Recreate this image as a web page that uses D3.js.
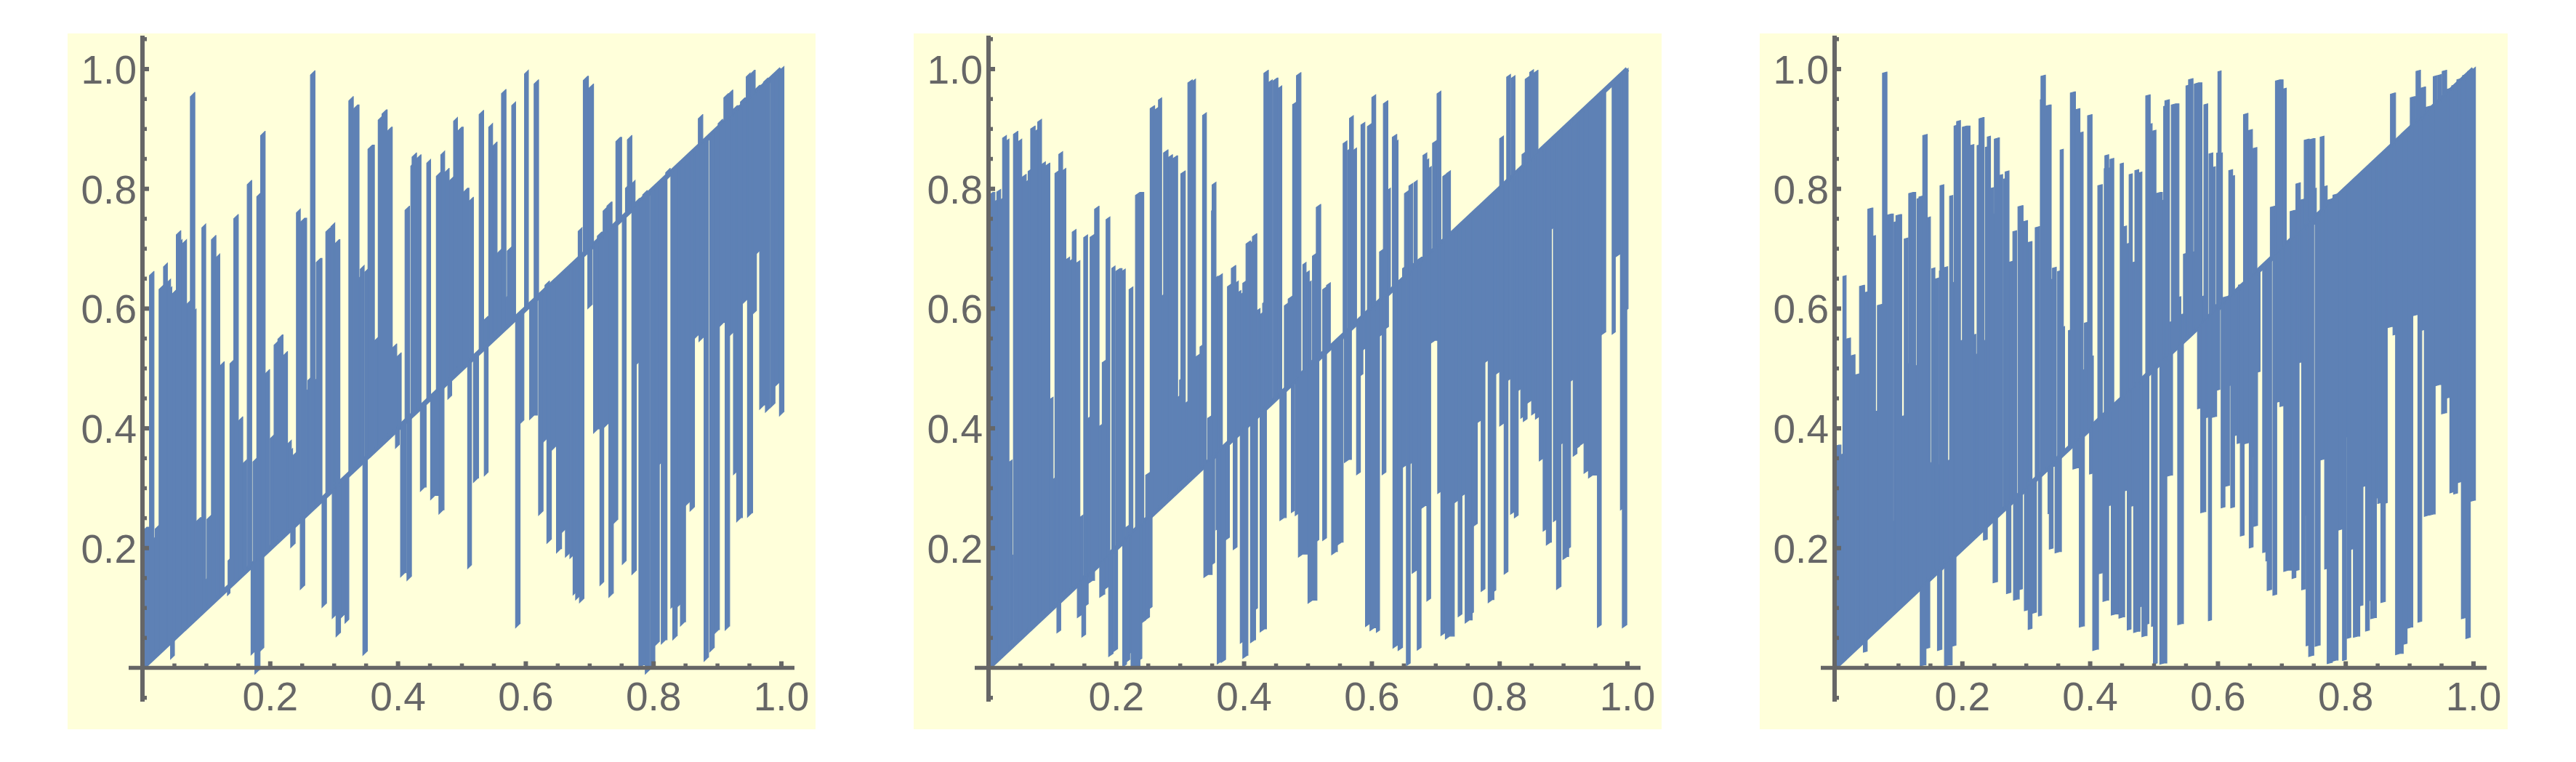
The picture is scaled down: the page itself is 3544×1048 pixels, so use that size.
<!DOCTYPE html>
<html><head><meta charset="utf-8">
<style>html,body{margin:0;padding:0;background:#fff}svg{display:block}text{font-family:"Liberation Sans",Arial,sans-serif}</style>
<script src="https://cdnjs.cloudflare.com/ajax/libs/d3/7.8.5/d3.min.js"></script>
</head><body><svg id="c" width="3544" height="1048"></svg>
<script>
// Each entry: [x start, x end, y reached] — spike runs leaving the y = x line.
const panel1Up=[[.000,.011,.235],[.011,.018,.662],[.018,.020,.218],[.020,.026,.238],[.026,.033,.639],[.033,.039,.676],[.039,.044,.649],[.044,.046,.636],[.046,.053,.631],[.053,.060,.730],[.060,.062,.715],[.063,.069,.715],[.069,.075,.613],[.075,.082,.961],[.082,.084,.599],[.084,.093,.251],[.093,.099,.741],[.099,.101,.149],[.101,.108,.255],[.108,.115,.722],[.115,.121,.691],[.121,.128,.511],[.134,.137,.182],[.137,.143,.514],[.143,.150,.757],[.150,.157,.419],[.157,.163,.347],[.164,.171,.814],[.173,.179,.350],[.179,.185,.793],[.185,.192,.896],[.192,.199,.498],[.200,.206,.389],[.206,.212,.545],[.212,.220,.556],[.220,.227,.528],[.227,.233,.380],[.233,.235,.366],[.235,.241,.360],[.241,.247,.766],[.247,.257,.751],[.257,.259,.465],[.259,.263,.484],[.263,.270,.997],[.270,.272,.482],[.272,.281,.684],[.287,.295,.735],[.295,.301,.743],[.301,.309,.715],[.323,.330,.954],[.330,.339,.940],[.339,.341,.653],[.341,.347,.672],[.348,.353,.666],[.353,.363,.873],[.363,.369,.552],[.369,.375,.921],[.375,.383,.932],[.383,.391,.903],[.391,.398,.541],[.398,.405,.526],[.411,.418,.771],[.420,.422,.840],[.422,.429,.860],[.429,.436,.857],[.445,.451,.849],[.460,.466,.827],[.467,.473,.863],[.473,.480,.834],[.480,.487,.820],[.487,.493,.919],[.493,.502,.903],[.502,.511,.801],[.511,.518,.786],[.527,.534,.931],[.534,.542,.587],[.542,.548,.909],[.548,.555,.878],[.555,.562,.699],[.562,.569,.966],[.569,.571,.620],[.571,.578,.703],[.578,.584,.945],[.598,.604,.998],[.613,.620,.982],[.630,.637,.646],[.676,.680,.681],[.682,.688,.735],[.690,.698,.988],[.699,.706,.975],[.705,.712,.712],[.712,.721,.728],[.721,.727,.769],[.727,.735,.778],[.741,.750,.886],[.756,.759,.804],[.759,.766,.889],[.766,.771,.814],[.771,.783,.784],[.783,.790,.797],[.819,.826,.834],[.870,.877,.924],[.901,.908,.916],[.910,.917,.959],[.917,.924,.965],[.924,.936,.939],[.936,.945,.952],[.945,.951,.993],[.951,.959,.998],[.959,.972,.973],[.972,.979,.985],[.979,.985,.985],[.985,.993,.993],[.993,.999,.998],[.999,1.002,.857]];
const panel1Down=[[.044,.050,.021],[.133,.137,.125],[.170,.176,.028],[.176,.184,-.003],[.184,.190,.034],[.232,.239,.208],[.247,.254,.138],[.281,.288,.108],[.297,.303,.089],[.303,.310,.059],[.310,.317,.090],[.317,.323,.081],[.345,.352,.028],[.396,.402,.373],[.404,.413,.159],[.414,.421,.153],[.435,.444,.302],[.451,.464,.288],[.464,.472,.264],[.478,.484,.455],[.509,.515,.172],[.518,.526,.317],[.535,.541,.327],[.584,.591,.074],[.591,.597,.414],[.606,.618,.422],[.620,.627,.262],[.627,.633,.383],[.633,.640,.215],[.640,.648,.370],[.648,.656,.199],[.656,.662,.232],[.662,.669,.192],[.669,.674,.188],[.674,.678,.126],[.678,.684,.120],[.684,.691,.116],[.697,.704,.607],[.706,.715,.399],[.716,.722,.144],[.723,.730,.409],[.730,.737,.125],[.737,.744,.248],[.751,.757,.179],[.766,.773,.163],[.773,.777,.511],[.777,.787,.005],[.787,.794,-.003],[.795,.802,.006],[.802,.809,.044],[.809,.812,.343],[.812,.821,.047],[.827,.830,.103],[.830,.837,.054],[.837,.842,.107],[.842,.850,.077],[.850,.857,.278],[.857,.864,.269],[.864,.871,.557],[.871,.879,.552],[.879,.886,.018],[.888,.895,.034],[.895,.903,.064],[.903,.912,.577],[.912,.919,.070],[.919,.925,.561],[.925,.930,.328],[.930,.939,.251],[.939,.947,.615],[.947,.955,.259],[.955,.961,.597],[.961,.966,.697],[.966,.975,.439],[.975,.982,.434],[.983,.990,.442],[.990,.997,.477],[.997,1.004,.428]];
const panel2Up=[[.000,.010,.794],[.010,.013,.781],[.013,.019,.799],[.019,.022,.784],[.022,.028,.889],[.028,.032,.883],[.032,.037,.347],[.037,.038,.188],[.039,.046,.896],[.046,.052,.883],[.052,.059,.824],[.059,.062,.814],[.062,.066,.832],[.066,.073,.905],[.073,.077,.899],[.077,.083,.916],[.083,.089,.845],[.089,.096,.843],[.096,.101,.452],[.101,.104,.317],[.104,.110,.830],[.110,.116,.862],[.116,.121,.834],[.121,.127,.686],[.128,.131,.682],[.131,.137,.732],[.137,.143,.680],[.143,.148,.255],[.149,.155,.723],[.155,.159,.419],[.159,.166,.724],[.166,.173,.771],[.173,.177,.406],[.178,.184,.514],[.184,.190,.753],[.193,.198,.671],[.199,.209,.667],[.209,.214,.666],[.214,.220,.238],[.220,.226,.636],[.226,.230,.232],[.230,.243,.794],[.243,.246,.251],[.246,.252,.326],[.253,.260,.939],[.260,.266,.936],[.266,.271,.952],[.271,.274,.623],[.274,.281,.865],[.281,.288,.857],[.288,.296,.855],[.296,.299,.454],[.299,.301,.482],[.301,.308,.830],[.308,.312,.445],[.312,.319,.982],[.319,.324,.983],[.324,.331,.524],[.331,.335,.539],[.335,.341,.927],[.343,.349,.421],[.349,.350,.764],[.350,.356,.811],[.356,.359,.654],[.360,.366,.658],[.374,.380,.641],[.380,.387,.672],[.387,.391,.646],[.391,.395,.630],[.395,.398,.626],[.398,.403,.646],[.403,.410,.713],[.410,.413,.712],[.413,.420,.725],[.420,.425,.600],[.425,.429,.593],[.429,.431,.610],[.431,.438,.998],[.438,.444,.982],[.445,.453,.985],[.453,.459,.972],[.463,.469,.609],[.469,.476,.621],[.476,.482,.945],[.482,.489,.994],[.492,.497,.677],[.497,.502,.663],[.502,.505,.646],[.505,.507,.514],[.507,.513,.692],[.513,.520,.774],[.520,.522,.528],[.523,.529,.636],[.529,.535,.643],[.535,.542,.543],[.542,.555,.549],[.555,.561,.880],[.562,.565,.866],[.565,.571,.922],[.571,.576,.868],[.576,.583,.584],[.583,.589,.911],[.589,.593,.597],[.593,.600,.909],[.600,.606,.957],[.606,.612,.610],[.612,.618,.699],[.618,.625,.947],[.625,.629,.801],[.629,.632,.630],[.632,.639,.891],[.639,.641,.881],[.641,.648,.646],[.648,.651,.669],[.651,.658,.797],[.658,.664,.809],[.664,.666,.676],[.666,.671,.814],[.671,.680,.686],[.680,.686,.860],[.686,.689,.850],[.689,.693,.837],[.693,.695,.700],[.695,.702,.881],[.702,.708,.963],[.708,.711,.716],[.711,.717,.825],[.717,.723,.830],[.800,.806,.888],[.811,.817,.991],[.818,.824,.989],[.835,.840,.861],[.840,.847,.988],[.847,.853,.999],[.853,.860,.998]];
const panel2Down=[[.107,.113,.063],[.139,.146,.089],[.146,.152,.056],[.152,.156,.107],[.156,.166,.146],[.174,.182,.123],[.182,.188,.136],[.188,.195,.024],[.196,.202,.032],[.210,.216,.006],[.216,.221,.014],[.221,.223,.026],[.223,.237,.003],[.237,.240,.016],[.240,.246,.080],[.246,.252,.085],[.252,.256,.102],[.337,.350,.156],[.350,.354,.176],[.356,.358,.232],[.358,.364,.011],[.364,.371,.014],[.371,.377,.218],[.383,.389,.202],[.394,.398,.044],[.398,.406,.021],[.410,.418,.047],[.418,.421,.100],[.425,.435,.065],[.456,.466,.251],[.474,.479,.263],[.480,.485,.258],[.485,.499,.190],[.499,.500,.205],[.500,.514,.113],[.514,.517,.214],[.523,.529,.217],[.537,.546,.194],[.546,.555,.210],[.557,.568,.348],[.576,.582,.327],[.582,.586,.491],[.586,.590,.534],[.590,.597,.074],[.597,.607,.067],[.607,.612,.063],[.612,.616,.557],[.616,.622,.327],[.622,.626,.570],[.633,.641,.038],[.641,.648,.034],[.648,.654,.339],[.654,.660,.008],[.660,.663,.343],[.663,.671,.163],[.671,.677,.034],[.677,.686,.271],[.686,.692,.116],[.692,.703,.547],[.703,.708,.295],[.708,.715,.059],[.715,.729,.053],[.729,.735,.280],[.735,.741,.090],[.741,.746,.291],[.746,.757,.080],[.757,.759,.093],[.759,.765,.241],[.765,.771,.414],[.771,.777,.132],[.777,.782,.514],[.782,.791,.114],[.791,.794,.130],[.794,.800,.495],[.800,.807,.409],[.807,.813,.161],[.813,.817,.483],[.817,.823,.261],[.823,.829,.255],[.829,.833,.466],[.833,.837,.420],[.837,.843,.416],[.843,.850,.447],[.850,.856,.427],[.856,.862,.420],[.862,.868,.350],[.868,.873,.232],[.873,.881,.210],[.881,.884,.735],[.884,.889,.248],[.889,.896,.136],[.896,.899,.376],[.899,.908,.186],[.908,.911,.202],[.911,.915,.482],[.915,.921,.358],[.921,.925,.370],[.925,.932,.376],[.932,.939,.330],[.939,.953,.322],[.953,.959,.072],[.959,.966,.561],[.976,.981,.561],[.981,.989,.691],[.989,.992,.266],[.992,.999,.072],[.999,1.001,.600]];
const panel3Up=[[.000,.010,.372],[.010,.013,.357],[.013,.018,.655],[.018,.025,.551],[.025,.032,.523],[.032,.039,.491],[.039,.047,.639],[.047,.052,.628],[.052,.060,.768],[.060,.064,.722],[.064,.067,.429],[.067,.075,.607],[.075,.082,.995],[.082,.092,.758],[.092,.093,.245],[.093,.096,.745],[.096,.105,.757],[.105,.109,.421],[.109,.115,.718],[.115,.116,.508],[.116,.127,.794],[.127,.129,.505],[.129,.132,.784],[.132,.138,.788],[.138,.145,.891],[.145,.150,.753],[.150,.152,.343],[.152,.157,.668],[.157,.163,.651],[.163,.164,.339],[.164,.165,.663],[.165,.171,.807],[.171,.177,.670],[.177,.180,.347],[.180,.185,.789],[.185,.187,.644],[.187,.191,.906],[.191,.197,.914],[.197,.200,.547],[.200,.212,.905],[.212,.218,.874],[.218,.221,.557],[.221,.223,.524],[.223,.226,.873],[.226,.234,.919],[.234,.236,.547],[.236,.239,.870],[.239,.244,.888],[.244,.249,.802],[.249,.250,.758],[.250,.258,.885],[.258,.263,.824],[.264,.267,.817],[.267,.273,.830],[.273,.279,.679],[.279,.285,.730],[.287,.295,.772],[.295,.302,.747],[.302,.309,.712],[.314,.321,.737],[.322,.323,.949],[.323,.330,.990],[.330,.339,.940],[.339,.341,.649],[.341,.347,.669],[.349,.353,.663],[.353,.358,.866],[.358,.360,.570],[.366,.369,.564],[.369,.377,.962],[.377,.384,.934],[.384,.389,.895],[.389,.391,.498],[.391,.396,.577],[.396,.403,.924],[.403,.405,.521],[.412,.419,.807],[.422,.423,.834],[.423,.429,.857],[.429,.431,.835],[.431,.437,.851],[.447,.452,.843],[.452,.457,.738],[.457,.461,.709],[.461,.466,.825],[.466,.470,.678],[.470,.476,.832],[.476,.481,.828],[.487,.494,.957],[.494,.497,.909],[.497,.503,.898],[.503,.513,.794],[.513,.515,.781],[.515,.517,.938],[.517,.524,.949],[.524,.527,.578],[.527,.539,.942],[.539,.542,.620],[.542,.546,.591],[.546,.550,.692],[.550,.554,.973],[.554,.561,.984],[.561,.563,.695],[.563,.575,.977],[.575,.578,.621],[.578,.584,.942],[.584,.586,.590],[.586,.592,.860],[.592,.596,.837],[.596,.598,.607],[.598,.600,.860],[.600,.605,.997],[.605,.607,.860],[.607,.617,.620],[.617,.623,.832],[.623,.626,.822],[.626,.632,.630],[.632,.640,.641],[.640,.647,.926],[.647,.654,.899],[.654,.661,.869],[.676,.682,.681],[.682,.690,.771],[.690,.702,.982],[.702,.707,.968],[.707,.713,.713],[.713,.722,.764],[.722,.729,.810],[.729,.735,.783],[.735,.743,.883],[.743,.752,.884],[.752,.754,.801],[.754,.759,.761],[.760,.766,.888],[.766,.771,.805],[.771,.780,.783],[.780,.786,.791],[.870,.878,.960],[.901,.910,.954],[.910,.917,.998],[.917,.925,.970],[.925,.936,.938],[.937,.943,.989],[.944,.950,.991],[.951,.958,.998],[.958,.966,.968],[.966,.974,.974],[.974,.983,.984],[.983,.991,.991],[.991,1.002,.998]];
const panel3Down=[[.045,.051,.028],[.134,.143,.005],[.143,.149,.034],[.161,.168,.031],[.172,.184,.005],[.184,.190,.038],[.233,.239,.215],[.248,.255,.144],[.269,.276,.126],[.280,.289,.115],[.289,.294,.132],[.297,.303,.097],[.303,.309,.066],[.310,.316,.093],[.319,.324,.088],[.334,.336,.258],[.336,.342,.200],[.342,.345,.337],[.345,.355,.194],[.373,.383,.334],[.383,.391,.070],[.399,.404,.325],[.404,.413,.031],[.413,.420,.159],[.420,.429,.113],[.429,.433,.272],[.433,.445,.090],[.445,.454,.085],[.454,.458,.297],[.458,.464,.065],[.464,.468,.271],[.468,.478,.061],[.478,.481,.103],[.481,.489,.054],[.489,.492,.074],[.496,.499,.070],[.499,.505,.008],[.509,.520,.008],[.520,.529,.322],[.537,.546,.074],[.568,.573,.434],[.573,.581,.261],[.581,.585,.419],[.585,.590,.080],[.590,.598,.420],[.598,.603,.465],[.605,.611,.269],[.611,.618,.305],[.618,.620,.472],[.620,.626,.269],[.626,.630,.389],[.630,.635,.376],[.635,.641,.222],[.641,.649,.376],[.649,.655,.202],[.655,.656,.353],[.656,.662,.238],[.662,.666,.495],[.670,.675,.194],[.675,.677,.179],[.677,.684,.131],[.686,.692,.123],[.692,.697,.445],[.697,.703,.438],[.703,.715,.163],[.715,.716,.403],[.716,.722,.151],[.722,.727,.164],[.727,.731,.511],[.731,.737,.132],[.737,.738,.255],[.738,.742,.038],[.742,.750,.021],[.750,.752,.741],[.752,.760,.038],[.760,.767,.349],[.767,.771,.166],[.771,.779,.009],[.779,.788,.013],[.788,.795,.232],[.795,.801,.014],[.801,.802,.386],[.802,.808,.051],[.808,.812,.199],[.812,.822,.053],[.822,.827,.105],[.827,.831,.304],[.831,.837,.063],[.837,.839,.113],[.839,.848,.084],[.848,.850,.284],[.850,.855,.276],[.855,.862,.111],[.862,.865,.276],[.865,.874,.570],[.874,.878,.557],[.878,.890,.024],[.890,.896,.041],[.896,.905,.068],[.905,.913,.590],[.913,.919,.078],[.919,.923,.565],[.923,.931,.255],[.931,.940,.257],[.940,.950,.473],[.950,.958,.426],[.958,.963,.452],[.963,.969,.294],[.969,.975,.292],[.975,.981,.311],[.981,.988,.084],[.988,.995,.051],[.995,1.003,.280]];
const diagonal=[0,1];
const majorTicks=[.2,.4,.6,.8,1];
const xMinorTicks=[.05,.1,.15,.25,.3,.35,.45,.5,.55,.65,.7,.75,.85,.9,.95];
const yMinorTicks=[-.05,.05,.1,.15,.25,.3,.35,.45,.5,.55,.65,.7,.75,.85,.9,.95,1.05];
const tickLabels=["0.2","0.4","0.6","0.8","1.0"];

const BLUE="#5E81B5",AXIS="#666666",BG="#FFFFDA";
const panels=[{dx:0,spikes:panel1Up.concat(panel1Down),slant:.007},
              {dx:1164,spikes:panel2Up.concat(panel2Down),slant:.005},
              {dx:2328,spikes:panel3Up.concat(panel3Down),slant:.002}];
const svg=d3.select("#c");
panels.forEach(p=>{
  const x=d3.scaleLinear().domain([0,1]).range([196,1075]);
  const y=d3.scaleLinear().domain([0,1]).range([918.5,95]);
  const g=svg.append("g").attr("transform",`translate(${p.dx},0)`);
  g.append("rect").attr("x",93).attr("y",46).attr("width",1029).attr("height",957).attr("fill",BG);
  const line=d3.line().x(d=>x(d[0])).y(d=>y(d[1]));
  g.append("path").attr("d",line(diagonal.map(v=>[v,v]))).attr("fill","none").attr("stroke",BLUE).attr("stroke-width",7);
  g.selectAll("path.s").data(p.spikes).join("path").attr("class","s")
    .attr("fill",BLUE).attr("stroke",BLUE).attr("stroke-width",1.2)
    .attr("d",([a,b,v])=>{
      const w=Math.min(.0068,b-a);
      return line([[a,a],[a,v-p.slant*w/.0068],[a+w,v],[b,v],[b,b]])+"Z";
    });
  const ax=g.append("g");
  const xAxis=d3.scaleLinear().domain([-.0216,1.02]).range([177,1093]);
  const yAxis=d3.scaleLinear().domain([-.0565,1.0565]).range([965,49]);
  ax.append("line").attr("x1",xAxis.range()[0]).attr("x2",xAxis.range()[1]).attr("y1",y(0)).attr("y2",y(0)).attr("stroke",AXIS).attr("stroke-width",5.5);
  ax.append("line").attr("x1",x(0)).attr("x2",x(0)).attr("y1",yAxis.range()[0]).attr("y2",yAxis.range()[1]).attr("stroke",AXIS).attr("stroke-width",6);
  ax.selectAll("line.xm").data(xMinorTicks).join("line").attr("x1",d=>x(d)).attr("x2",d=>x(d)).attr("y1",y(0)).attr("y2",y(0)-6).attr("stroke",AXIS).attr("stroke-width",5.5);
  ax.selectAll("line.xM").data(majorTicks).join("line").attr("x1",d=>x(d)).attr("x2",d=>x(d)).attr("y1",y(0)).attr("y2",y(0)-9).attr("stroke",AXIS).attr("stroke-width",6);
  ax.selectAll("line.ym").data(yMinorTicks).join("line").attr("x1",x(0)).attr("x2",x(0)+6).attr("y1",d=>y(d)).attr("y2",d=>y(d)).attr("stroke",AXIS).attr("stroke-width",5.5);
  ax.selectAll("line.yM").data(majorTicks).join("line").attr("x1",x(0)).attr("x2",x(0)+9).attr("y1",d=>y(d)).attr("y2",d=>y(d)).attr("stroke",AXIS).attr("stroke-width",6);
  g.selectAll("text.xl").data(majorTicks).join("text").attr("x",d=>x(d)).attr("y",977)
    .attr("text-anchor","middle").attr("font-size",55).attr("fill",AXIS).text((d,i)=>tickLabels[i]);
  g.selectAll("text.yl").data(majorTicks).join("text").attr("x",188).attr("y",d=>y(d)+20)
    .attr("text-anchor","end").attr("font-size",55).attr("fill",AXIS).text((d,i)=>tickLabels[i]);
});
</script></body></html>
